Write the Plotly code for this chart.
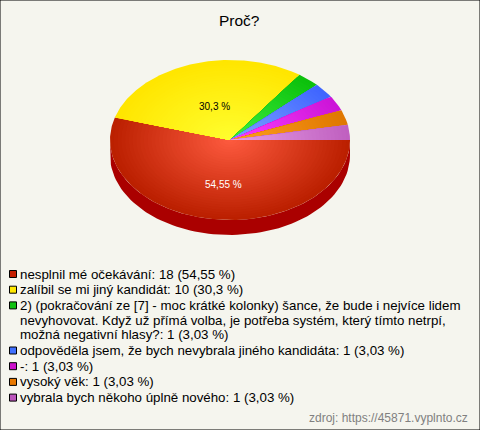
import numpy as np
import plotly.graph_objects as go

title = "Proč?"
source = "zdroj: https://45871.vyplnto.cz"
values = [18, 10, 1, 1, 1, 1, 1]
percents = ["54,55 %", "30,3 %", "3,03 %", "3,03 %", "3,03 %", "3,03 %", "3,03 %"]
legend_lines = [
    ["nesplnil mé očekávání"],
    ["zalíbil se mi jiný kandidát"],
    ["2) (pokračování ze [7] - moc krátké kolonky) šance, že bude i nejvíce lidem",
     "nevyhovovat. Když už přímá volba, je potřeba systém, který tímto netrpí,",
     "možná negativní hlasy?"],
    ["odpověděla jsem, že bych nevybrala jiného kandidáta"],
    ["-"],
    ["vysoký věk"],
    ["vybrala bych někoho úplně nového"],
]
edge_colors = ["#bb2000", "#ffe600", "#0cc00c", "#3f66ff", "#cc15d8", "#e07800", "#c060c0"]
center_colors = ["#ff5c40", "#ffff30", "#40f040", "#80a4ff", "#ff40ff", "#ffa020", "#e8a0e8"]
swatch_colors = ["#c41e00", "#ffe800", "#10c010", "#4070ff", "#cc10cc", "#e87800", "#bb55bb"]
side_color = "#aa0000"

CX, CY, RX, RY, DEPTH = 230, 140, 120, 80, 15
BG = "#f5f5ee"
FONT = "Liberation Sans"
STEPS = 32


def hex2rgb(h):
    return np.array([int(h[i:i + 2], 16) for i in (1, 3, 5)], dtype=float)


fig = go.Figure()
total = sum(values)
edges = np.concatenate([[0], np.cumsum(values)]) / total * 2 * np.pi

# side wall of the pie (only the part facing the viewer, 0..180 degrees)
for i in range(len(values)):
    a0, a1 = edges[i], min(edges[i + 1], np.pi)
    if a0 >= np.pi:
        continue
    t = np.linspace(a0, a1, 80)
    x = CX + RX * np.cos(t)
    y = CY + RY * np.sin(t)
    fig.add_trace(go.Scatter(
        x=np.concatenate([x, x[::-1]]),
        y=np.concatenate([y, y[::-1] + DEPTH]),
        mode="lines", line=dict(width=0), fill="toself",
        fillcolor=side_color, hoverinfo="skip", showlegend=False))

# top face: each slice as nested wedges making a radial gradient
for i in range(len(values)):
    c_edge, c_center = hex2rgb(edge_colors[i]), hex2rgb(center_colors[i])
    t = np.linspace(edges[i], edges[i + 1], max(6, int(values[i] * 16)))
    for s in range(STEPS):
        f = 1 - s / STEPS
        col = c_center + (c_edge - c_center) * f
        x = np.concatenate([[CX], CX + f * RX * np.cos(t), [CX]])
        y = np.concatenate([[CY], CY + f * RY * np.sin(t), [CY]])
        fig.add_trace(go.Scatter(
            x=x, y=y, mode="lines", line=dict(width=0), fill="toself",
            fillcolor="rgb(%d,%d,%d)" % tuple(col), hoverinfo="skip", showlegend=False))

annotations = []


def label(x, y, text, size=13.3, color="#000000", anchor="left"):
    annotations.append(dict(x=x, y=y, xref="x", yref="y", text=text, showarrow=False,
                            xanchor=anchor, yanchor="middle", align=anchor,
                            xshift=0, font=dict(family=FONT, size=size, color=color)))


label(239, 20, title, size=15.5, anchor="center")
label(223, 184, percents[0], size=10, color="#ffffff", anchor="center")
label(214, 106, percents[1], size=10, anchor="center")
label(470, 418, source, size=12, color="#808080", anchor="right")

# legend rows
row_y = 274
sw_x, sw_y = [], []
for i, lines in enumerate(legend_lines):
    sw_x.append(13)
    sw_y.append(row_y)
    for j, line in enumerate(lines):
        txt = line
        if j == len(lines) - 1:
            txt = f"{line}: {values[i]} ({percents[i]})"
        label(18, row_y, txt)
        if j < len(lines) - 1:
            row_y += 14.7
    row_y += 15.7

fig.add_trace(go.Scatter(
    x=sw_x, y=sw_y, mode="markers", hoverinfo="skip", showlegend=False,
    marker=dict(symbol="square", size=7, color=swatch_colors, line=dict(color="#000000", width=1))))

fig.update_layout(
    width=480, height=430, margin=dict(l=0, r=0, t=0, b=0),
    paper_bgcolor=BG, plot_bgcolor=BG, annotations=annotations,
    xaxis=dict(range=[0, 480], visible=False, fixedrange=True),
    yaxis=dict(range=[430, 0], visible=False, fixedrange=True),
    shapes=[dict(type="rect", xref="paper", yref="paper", x0=0, y0=0, x1=1, y1=1,
                 line=dict(color="#000000", width=1), fillcolor="rgba(0,0,0,0)")],
)
fig.write_html("out.html", config=dict(displayModeBar=False),
               post_script="document.body.style.margin='0';document.documentElement.style.overflow='hidden';")
